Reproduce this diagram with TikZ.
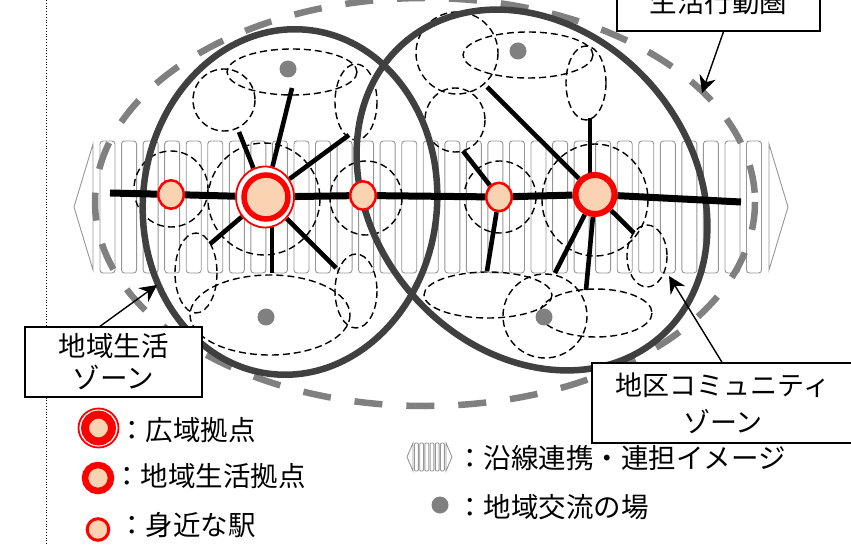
\documentclass[tikz,border=0pt]{standalone}
\usepackage{fontspec}
\setmainfont{Noto Sans CJK JP}
\usetikzlibrary{arrows.meta,shapes.geometric}

\definecolor{peach}{RGB}{250,211,178}
\definecolor{zonegray}{RGB}{64,64,64}
\definecolor{areagray}{RGB}{128,128,128}
\definecolor{railgray}{RGB}{150,150,150}
\definecolor{dotgray}{RGB}{128,128,128}

\pgfdeclarelayer{back}
\pgfdeclarelayer{mid}
\pgfsetlayers{back,mid,main}

\tikzset{
  % ----- the stations
  station/.style={
    ellipse, draw=red, line width=2.5pt, fill=peach,
    minimum width=25.5pt, minimum height=28.5pt, inner sep=0pt
  },
  localhub/.style={circle, draw=red, line width=6pt, fill=peach, minimum size=39pt, inner sep=0pt},
  widehub/.style={circle, draw=red, line width=5.5pt, fill=peach, minimum size=44pt, inner sep=0pt},
  widering/.style={ellipse, draw=red, line width=1.8pt, fill=white, minimum width=58pt, minimum height=61pt, inner sep=0pt},
  spot/.style={circle, fill=dotgray, minimum size=17pt, inner sep=0pt},
  % ----- the areas
  zone/.style={draw=zonegray, line width=6.5pt},
  area/.style={draw=areagray, line width=6.5pt, dash pattern=on 28pt off 24pt},
  community/.style={draw=black, line width=1.4pt, dash pattern=on 7pt off 4pt},
  railrect/.style={draw=railgray, line width=0.9pt, rounded corners=3pt},
  band/.style={draw=railgray, line width=0.9pt},
  % ----- the lines
  rail/.style={line width=7pt},
  spoke/.style={line width=4.6pt}
}

\begin{document}
\begin{tikzpicture}[
                x = 1pt, y = -1pt, % pixel grid of the sketch
                > = Stealth, % arrow head style
                font = \fontsize{27.5pt}{32pt}\selectfont
            ]
        \tikzstyle{callout} = [draw, line width=1.4pt, fill=white, align=center, inner sep=0pt]
        \tikzstyle{callarrow} = [line width=1.4pt, -{Stealth[length=17pt,width=17pt]}]
        \tikzstyle{legend} = [anchor=west, inner sep=0pt]

        \useasboundingbox (0,0) rectangle (851,545);
        \clip (0,0) rectangle (851,545);

        % margin
        \draw[dotted, line width=0.8pt] (46,0) -- (46,545);

        \begin{pgfonlayer}{back}
            % track band
            \foreach \i in {0,...,30}{
                \draw[railrect] ({100+21.55*\i},141) rectangle +(15,132);
            }
            \draw[band] (93,144) -- (74,207) -- (93,270) -- cycle;
            \draw[band] (769,144) -- (788,207) -- (769,270) -- cycle;

            % living area
            \draw[area] (425,202) ellipse [x radius=330, y radius=204];

            % community circles
            \foreach \cx/\cy/\rx/\ry in {292/72/65/23, 224/100/31/31, 356/102/21/38,
                    171/189/37/38, 264/199/56/56, 366/198/36/37,
                    196/273/21/40, 270/315/80/40, 356/291/21/37,
                    457/53/41/41, 528/55/65/23, 586/83/20/37, 455/120/30/32,
                    500/197/36/36, 595/200/53/56, 647/256/20/31,
                    488/295/64/23, 545/316/42/42, 596/313/56/24}{
                \draw[community] (\cx,\cy) ellipse [x radius=\rx, y radius=\ry];
            }

            % zones
            \draw[zone, rotate around={-6:(290,202)}] (290,202) ellipse [x radius=147, y radius=173];
            \draw[zone, rotate around={-49:(532,190)}] (532,190) ellipse [x radius=195, y radius=159];
        \end{pgfonlayer}

        % stations
        \node[station] (s1) at (171,194.5) {};
        \node[widering] (hubring) at (265,197) {};
        \node[widehub] (hub) at (266,197) {};
        \node[station] (s3) at (363,195.5) {};
        \node[station] (s4) at (499,197) {};
        \node[localhub] (s5) at (595,194.5) {};

        % meeting places
        \node[spot] (d1) at (288,69) {};
        \node[spot] (d2) at (266,317) {};
        \node[spot] (d3) at (518,51) {};
        \node[spot] (d4) at (544,317) {};

        % spoke ends
        \coordinate (railw) at (110,193);
        \coordinate (raile) at (741,202);
        \coordinate (sp1) at (292,88);
        \coordinate (sp2) at (239,132);
        \coordinate (sp3) at (349,135);
        \coordinate (sp4) at (210,244);
        \coordinate (sp5) at (272,273);
        \coordinate (sp6) at (336,268);
        \coordinate (sq1) at (487,87);
        \coordinate (sq2) at (590,118);
        \coordinate (sq3) at (634,233);
        \coordinate (sq4) at (555,273);
        \coordinate (sq5) at (586,290);
        \coordinate (sq6) at (463,151);
        \coordinate (sq7) at (487,271);

        \begin{pgfonlayer}{mid}
            \draw[rail] (railw) -- (s1) -- (hubring) -- (s3) -- (s4) -- (s5) -- (raile);
            \foreach \e in {sp1,sp2,sp3,sp4,sp6}{
                \draw[spoke] (hubring) -- (\e);
            }
            \draw[spoke] (sp5 |- hubring) -- (sp5);
            \foreach \e in {sq1,sq3,sq4,sq5}{
                \draw[spoke] (s5) -- (\e);
            }
            \draw[spoke] (sq2 |- s5) -- (sq2);
            \foreach \e in {sq6,sq7}{
                \draw[spoke] (s4) -- (\e);
            }
        \end{pgfonlayer}

        % callouts
        \node[callout, minimum width=203pt, minimum height=58pt] (areabox) at (718.5,2) {生活行動圏};
        \node[callout, minimum width=177pt, minimum height=70pt, font=\fontsize{27.5pt}{32pt}\selectfont]
            (livingbox) at (113.5,362) {地域生活\\ゾーン};
        \node[callout, minimum width=262pt, minimum height=80pt, font=\fontsize{27pt}{37pt}\selectfont]
            (communitybox) at (723,403) {地区コミュニティ\\ゾーン};
        \coordinate (areatip) at (702,93);
        \coordinate (livingtip) at (157,285);
        \coordinate (communitytip) at (669,276);
        \draw[callarrow] ([xshift=5pt]areabox.south) -- (areatip);
        \draw[callarrow] ([xshift=-13.5pt]livingbox.north) -- (livingtip);
        \draw[callarrow] ([xshift=-1pt]communitybox.north) -- (communitytip);

        % legend
        \node[widering, minimum width=40pt, minimum height=39pt] (lgring) at (98.5,428) {};
        \node[widehub, minimum size=26.8pt, line width=8pt] (lgwide) at (98.5,428) {};
        \node[localhub, minimum size=26pt, line width=6.5pt] (lglocal) at (98,478) {};
        \node[station, minimum width=21.6pt, minimum height=21.6pt, line width=3pt] (lgstation) at (98,529.5) {};
        \node[legend] (lgwidetext) at (118,430) {：広域拠点};
        \node[legend] (lglocaltext) at (113,476) {：地域生活拠点};
        \node[legend] (lgstationtext) at (118,525) {：身近な駅};

        \foreach \i in {0,...,5}{
            \draw[railrect, rounded corners=1pt] ({414.5+5.2*\i},443) rectangle +(3.8,28);
        }
        \draw[band] (413,443) -- (407,457) -- (413,471) -- cycle;
        \draw[band] (446,443) -- (452,457) -- (446,471) -- cycle;
        \node[legend] (lgbandtext) at (456,458) {：沿線連携・連担イメージ};
        \node[spot] (lgspot) at (440,505) {};
        \node[legend] (lgspottext) at (456,507) {：地域交流の場};
\end{tikzpicture}
\end{document}
